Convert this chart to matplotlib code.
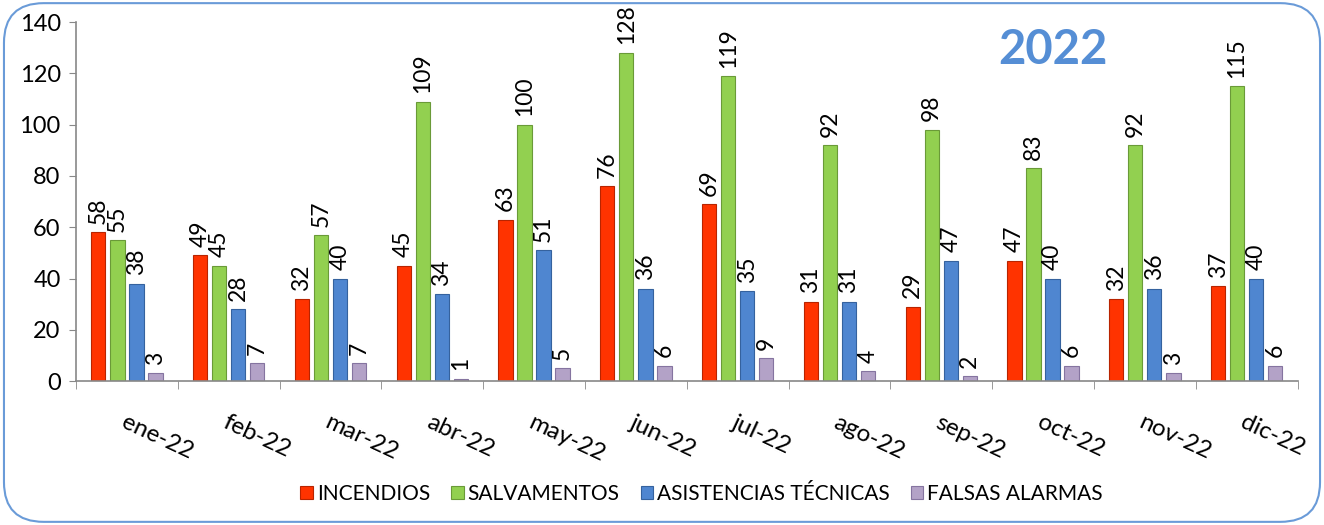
import matplotlib
matplotlib.use("Agg")
import matplotlib.pyplot as plt
from matplotlib.patches import FancyBboxPatch
import numpy as np

plt.rcParams['font.family'] = ['Lato', 'DejaVu Sans']

meses = ['ene-22', 'feb-22', 'mar-22', 'abr-22', 'may-22', 'jun-22',
         'jul-22', 'ago-22', 'sep-22', 'oct-22', 'nov-22', 'dic-22']
incendios = [58, 49, 32, 45, 63, 76, 69, 31, 29, 47, 32, 37]
salvamentos = [55, 45, 57, 109, 100, 128, 119, 92, 98, 83, 92, 115]
asistencias = [38, 28, 40, 34, 51, 36, 35, 31, 47, 40, 36, 40]
falsas = [3, 7, 7, 1, 5, 6, 9, 4, 2, 6, 3, 6]

series = [
    ('INCENDIOS', incendios, '#FF3300', '#B82400'),
    ('SALVAMENTOS', salvamentos, '#92D050', '#6A9A38'),
    ('ASISTENCIAS TÉCNICAS', asistencias, '#4F86D0', '#35629E'),
    ('FALSAS ALARMAS', falsas, '#B3A2C7', '#8574A0'),
]

fig = plt.figure(figsize=(13.24, 5.25), dpi=100)
ax = fig.add_axes([0.0574, 0.274, 0.9226, 0.684])

x = np.arange(len(meses))
step = 0.187
width = 0.14
for i, (name, vals, color, edge) in enumerate(series):
    pos = x + (i - 1.5) * step
    bars = ax.bar(pos, vals, width, color=color, edgecolor=edge, linewidth=0.8, label=name)
    for b, v in zip(bars, vals):
        ax.annotate(str(v), (b.get_x() + b.get_width() / 2, v), xytext=(0, 6),
                    textcoords='offset points', rotation=90, ha='center', va='bottom',
                    fontsize=16.5, color='black')

ax.set_xlim(-0.5, len(meses) - 0.5)
ax.set_ylim(0, 140)
ax.set_yticks(range(0, 141, 20))
ax.tick_params(axis='y', labelsize=17, length=5, color='#888888', pad=6)

ax.set_xticks(x)
ax.set_xticklabels(meses, rotation=-25, ha='left', rotation_mode='anchor', fontsize=17.5)
ax.tick_params(axis='x', which='major', length=0, pad=22)
ax.set_xticks(np.arange(-0.5, len(meses)), minor=True)
ax.tick_params(axis='x', which='minor', length=6, color='#888888')

for s in ['top', 'right']:
    ax.spines[s].set_visible(False)
for s in ['left', 'bottom']:
    ax.spines[s].set_color('#888888')
    ax.spines[s].set_linewidth(1.2)

fig.text(0.795, 0.905, '2022', fontsize=34, fontweight='bold', color='#558ED5',
         ha='center', va='center')

ax.legend(loc='center', bbox_to_anchor=(0.53, 0.06), bbox_transform=fig.transFigure,
          ncol=4, frameon=False, fontsize=15, handlelength=0.6, handleheight=0.6,
          handletextpad=0.2, columnspacing=1.0)

border = FancyBboxPatch((0.003, 0.006), 0.994, 0.988, boxstyle='round,pad=0,rounding_size=0.03',
                        transform=fig.transFigure, facecolor='none', edgecolor='#6A9BD8',
                        linewidth=1.5, mutation_aspect=1324 / 525)
fig.patches.append(border)

fig.savefig('out.png', dpi=100)
